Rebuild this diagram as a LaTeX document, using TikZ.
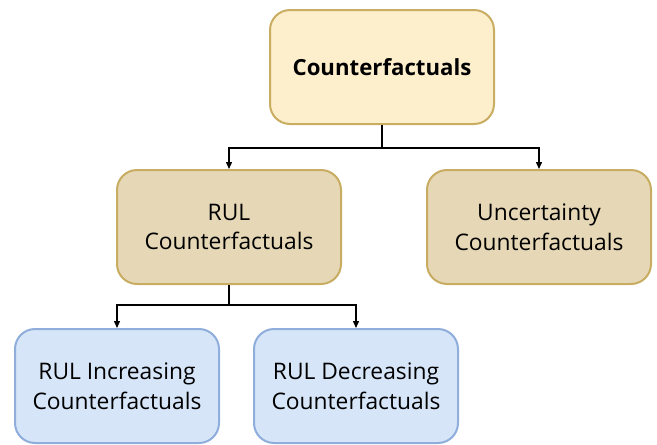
\documentclass[tikz,border=0pt]{standalone}
\usepackage{fontspec}
\setmainfont{Open Sans}
\usetikzlibrary{arrows.meta}
\definecolor{topfill}{HTML}{FDEFCB}
\definecolor{topdraw}{HTML}{C9AD62}
\definecolor{midfill}{HTML}{E6D8B6}
\definecolor{middraw}{HTML}{C8AC62}
\definecolor{botfill}{HTML}{D6E5F8}
\definecolor{botdraw}{HTML}{8FAEDC}
\begin{document}
\begin{tikzpicture}[x=1pt,y=-1pt,
  box/.style={rounded corners=20pt, line width=2pt, align=center, inner sep=0pt,
    font=\fontsize{22.8}{29.5}\selectfont, minimum height=114pt},
  topbox/.style={box, fill=topfill, draw=topdraw, minimum width=224pt, font=\fontsize{22.2}{29}\selectfont\bfseries},
  midbox/.style={box, fill=midfill, draw=middraw, minimum width=224pt},
  botbox/.style={box, fill=botfill, draw=botdraw, minimum width=204pt},
  conn/.style={line width=1.4pt, -{Triangle[length=7pt,width=6pt]}}]
\useasboundingbox (0,0) rectangle (657,445);
\node[topbox] (top) at (382,67) {Counterfactuals};
\node[midbox] (rul) at (229,227) {RUL\\Counterfactuals};
\node[midbox] (unc) at (539,227) {Uncertainty\\Counterfactuals};
\node[botbox] (inc) at (117,386) {RUL Increasing\\Counterfactuals};
\node[botbox] (dec) at (356,386) {RUL Decreasing\\Counterfactuals};
\coordinate (j1) at (382,148);
\coordinate (j2) at (229,305);
\draw[line width=1.4pt] (top.south) -- (j1);
\draw[conn] (j1) -| (rul.north);
\draw[conn] (j1) -| (unc.north);
\draw[line width=1.4pt] (rul.south) -- (j2);
\draw[conn] (j2) -| (inc.north);
\draw[conn] (j2) -| (dec.north);
\end{tikzpicture}
\end{document}
